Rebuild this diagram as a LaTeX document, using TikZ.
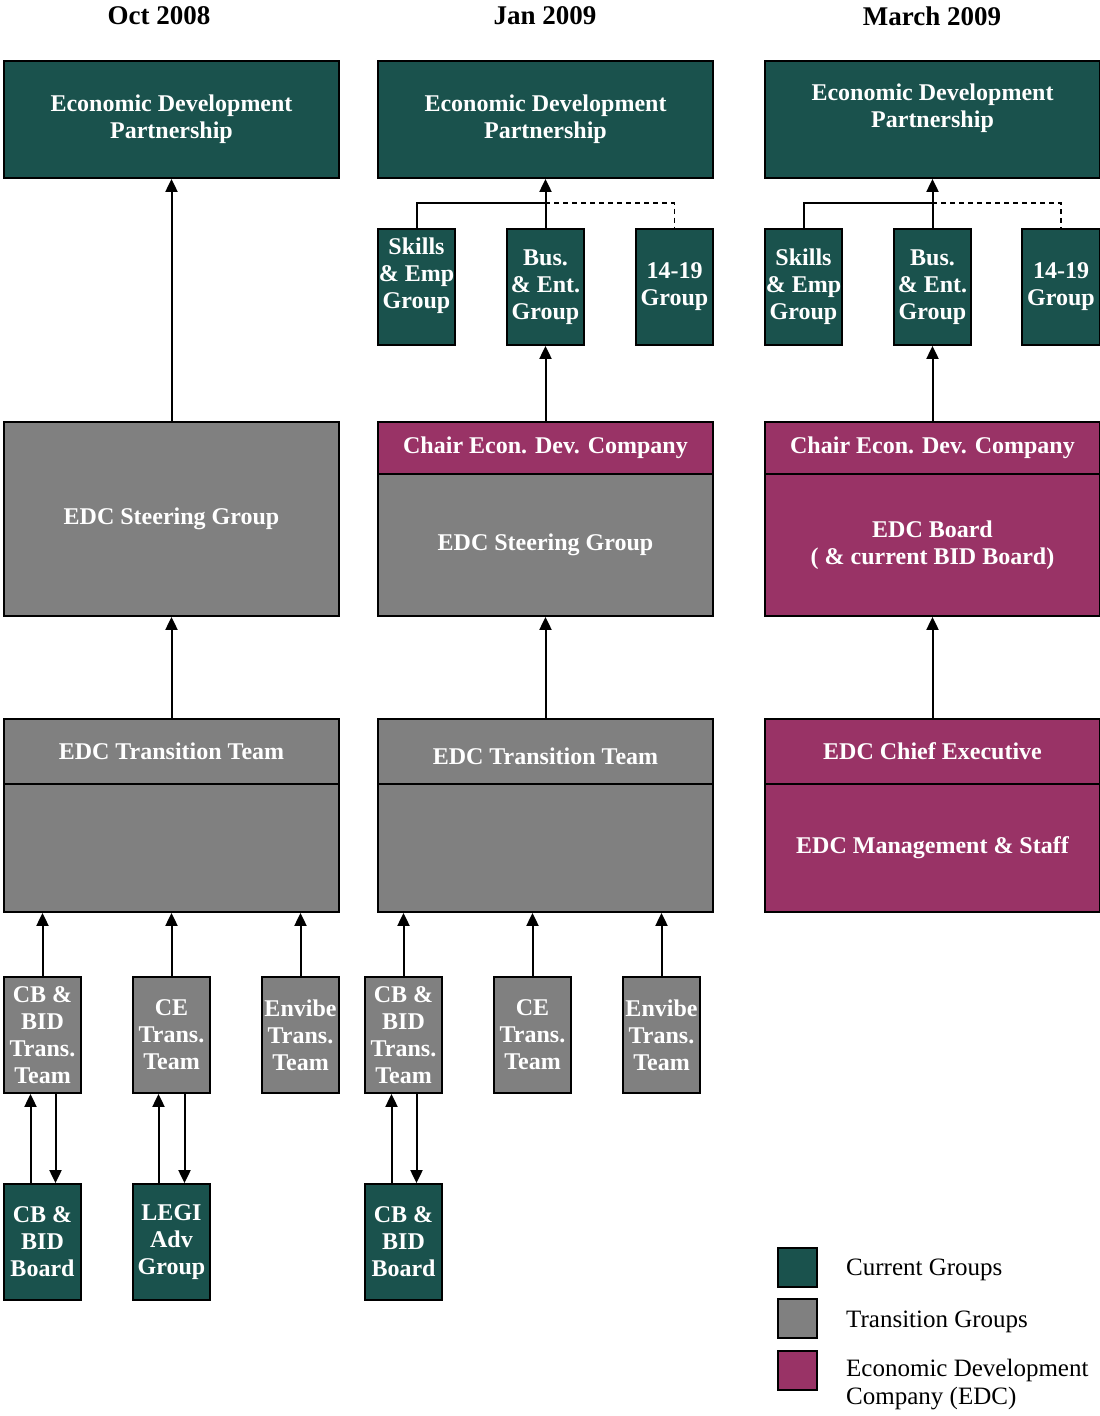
\documentclass[tikz,border=0pt]{standalone}
\usepackage{fontspec}
\setmainfont{Liberation Serif}
\usetikzlibrary{arrows.meta}
\definecolor{curc}{HTML}{1A524D}
\definecolor{trac}{HTML}{808080}
\definecolor{edcc}{HTML}{993366}
\tikzset{
  bx/.style={draw=black, line width=1.8pt, inner sep=0pt, align=center,
    text=white, font=\fontsize{24}{27}\selectfont\bfseries},
  curbox/.style={bx, fill=curc},
  trabox/.style={bx, fill=trac},
  edcbox/.style={bx, fill=edcc},
  arr/.style={line width=2pt, -{Triangle[width=12pt,length=13pt]}},
  link/.style={line width=2pt},
  dlink/.style={line width=1.4pt, dash pattern=on 5pt off 4pt},
  head/.style={font=\fontsize{27}{30}\selectfont\bfseries, text=black},
  legtext/.style={font=\fontsize{25}{28}\selectfont, align=left, anchor=west, inner sep=0pt},
  legsq/.style={draw=black, line width=1.8pt, minimum width=39pt, minimum height=39pt, inner sep=0pt}
}
% \mybox{style}{name}{x1}{y1}{x2}{y2}{text}
\newcommand\mybox[7]{\node[#1, minimum width={#5-#3}, minimum height={#6-#4}] (#2) at ({(#3+#5)/2},{(#4+#6)/2}) {#7};}
\begin{document}
\begin{tikzpicture}[x=1pt,y=-1pt]
\useasboundingbox (0,0) rectangle (1100,1416);

% headings
\node[head] (h1) at (159,16) {Oct 2008};
\node[head] (h2) at (545,16) {Jan 2009};
\node[head] (h3) at (932,16) {March 2009};

% row 1: partnership
\mybox{curbox}{edp1}{4}{61}{339}{178}{Economic Development\\Partnership}
\mybox{curbox}{edp2}{378}{61}{713}{178}{Economic Development\\Partnership}
\mybox{curbox}{edp3}{765}{61}{1100}{178}{Economic Development\\Partnership\\\mbox{}}

% groups col 2
\mybox{curbox}{sk2}{378}{229}{455}{345}{Skills\\\& Emp\\Group\\\mbox{}}
\mybox{curbox}{bus2}{507}{229}{584}{345}{Bus.\\\& Ent.\\Group}
\mybox{curbox}{ft2}{636}{229}{713}{345}{14-19\\Group}
% groups col 3
\mybox{curbox}{sk3}{765}{229}{842}{345}{Skills\\\& Emp\\Group}
\mybox{curbox}{bus3}{894}{229}{971}{345}{Bus.\\\& Ent.\\Group}
\mybox{curbox}{ft3}{1022}{229}{1100}{345}{14-19\\Group}

% row 2
\mybox{trabox}{sg1}{4}{422}{339}{616}{EDC Steering Group}
\mybox{edcbox}{ch2}{378}{422}{713}{474}{Chair Econ. Dev. Company}
\mybox{trabox}{sg2}{378}{474}{713}{616}{EDC Steering Group}
\mybox{edcbox}{ch3}{765}{422}{1100}{474}{Chair Econ. Dev. Company}
\mybox{edcbox}{bd3}{765}{474}{1100}{616}{EDC Board\\( \& current BID Board)}

% row 3
\mybox{trabox}{tt1}{4}{719}{339}{784}{EDC Transition Team}
\mybox{trabox}{tb1}{4}{784}{339}{912}{}
\mybox{trabox, text height=30pt, text depth=5pt}{tt2}{378}{719}{713}{784}{EDC Transition Team}
\mybox{trabox}{tb2}{378}{784}{713}{912}{}
\mybox{edcbox}{ce3}{765}{719}{1100}{784}{EDC Chief Executive}
\mybox{edcbox}{ms3}{765}{784}{1100}{912}{EDC Management \& Staff}

% row 4
\mybox{trabox}{cbt1}{4}{977}{81}{1093}{CB \&\\BID\\Trans.\\Team}
\mybox{trabox}{cet1}{133}{977}{210}{1093}{CE\\Trans.\\Team}
\mybox{trabox}{ent1}{262}{977}{339}{1093}{Envibe\\Trans.\\Team}
\mybox{trabox}{cbt2}{365}{977}{442}{1093}{CB \&\\BID\\Trans.\\Team}
\mybox{trabox}{cet2}{494}{977}{571}{1093}{CE\\Trans.\\Team}
\mybox{trabox}{ent2}{623}{977}{700}{1093}{Envibe\\Trans.\\Team}

% row 5
\mybox{curbox}{cbb1}{4}{1184}{81}{1300}{CB \&\\BID\\Board}
\mybox{curbox}{legi1}{133}{1184}{210}{1300}{LEGI\\Adv\\Group}
\mybox{curbox}{cbb2}{365}{1184}{442}{1300}{CB \&\\BID\\Board}

% connectors col 1
\draw[arr] (sg1.north) -- (edp1.south);
\draw[arr] (tt1.north) -- (sg1.south);
\draw[arr] (cbt1.north) -- (cbt1.north |- tb1.south);
\draw[arr] (cet1.north) -- (cet1.north |- tb1.south);
\draw[arr] (ent1.north) -- (ent1.north |- tb1.south);
\draw[arr] ([xshift=-12pt]cbb1.north) -- ([xshift=-12pt]cbt1.south);
\draw[arr] ([xshift=13pt]cbt1.south) -- ([xshift=13pt]cbb1.north);
\draw[arr] ([xshift=-13pt]legi1.north) -- ([xshift=-13pt]cet1.south);
\draw[arr] ([xshift=13pt]cet1.south) -- ([xshift=13pt]legi1.north);

% connectors col 2
\coordinate (j2) at (545,203);
\draw[link] (sk2.north) |- (j2);
\draw[dlink] (j2) -| (ft2.north);
\draw[arr] (bus2.north) -- (edp2.south);
\draw[arr] (ch2.north) -- (bus2.south);
\draw[arr] (tt2.north) -- (sg2.south);
\draw[arr] (cbt2.north) -- (cbt2.north |- tb2.south);
\draw[arr] (cet2.north) -- (cet2.north |- tb2.south);
\draw[arr] (ent2.north) -- (ent2.north |- tb2.south);
\draw[arr] ([xshift=-12pt]cbb2.north) -- ([xshift=-12pt]cbt2.south);
\draw[arr] ([xshift=13pt]cbt2.south) -- ([xshift=13pt]cbb2.north);

% connectors col 3
\coordinate (j3) at (932,203);
\draw[link] (sk3.north) |- (j3);
\draw[dlink] (j3) -| (ft3.north);
\draw[arr] (bus3.north) -- (edp3.south);
\draw[arr] (ch3.north) -- (bus3.south);
\draw[arr] (ce3.north) -- (bd3.south);

% legend
\node[legsq, fill=curc] (l1) at (797.5,1267.5) {};
\node[legsq, fill=trac] (l2) at (797.5,1318.5) {};
\node[legsq, fill=edcc] (l3) at (797.5,1370.5) {};
\node[legtext] (t1) at (846,1270) {Current Groups};
\node[legtext] (t2) at (846,1322) {Transition Groups};
\node[legtext, anchor=north west] (t3) at (846,1359) {Economic Development\\Company (EDC)};
\end{tikzpicture}
\end{document}
